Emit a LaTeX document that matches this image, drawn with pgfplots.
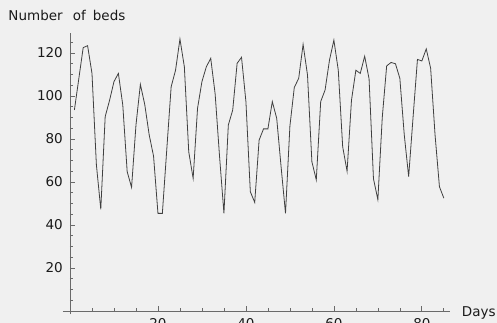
\documentclass[border=0pt]{standalone}
\usepackage{pgfplots}
\pgfplotsset{compat=1.18}
\usepackage{pgfplotstable}
\usepackage{fontspec}
\setmainfont{DejaVu Sans}
\definecolor{bgcol}{HTML}{F0F0F0}
\definecolor{linecol}{HTML}{404040}
\definecolor{axiscol}{HTML}{6A6A6A}
\definecolor{textcol}{HTML}{1A1A1A}
\newcommand{\lblfont}{\fontsize{13.5bp}{16bp}\selectfont}
\pgfplotstableread{
day beds
1 93.5
2 108
3 122.5
4 123.4
5 110.5
6 68
7 47.3
8 90.4
9 98
10 106.7
11 110.5
12 95.8
13 64.8
14 57.5
15 86.5
16 105.4
17 96
18 82
19 72
20 45.4
21 45.4
22 75
23 104.3
24 112
25 126.5
26 113.6
27 74
28 61.7
29 94.3
30 106.7
31 113.6
32 117.5
33 101
34 72
35 45.4
36 86.5
37 93.5
38 115.2
39 118
40 97.4
41 55.5
42 50.5
43 79.5
44 84.7
45 84.7
46 97.4
47 89.6
48 67
49 45.4
50 86
51 104
52 108.2
53 124
54 109.8
55 69.4
56 61
57 97.4
58 102.8
59 116.7
60 126
61 112
62 76.4
63 65
64 98
65 112
66 110.5
67 118.5
68 108
69 61.5
70 51.8
71 90
72 114
73 115.6
74 115
75 108.2
76 82
77 62.5
78 90
79 117
80 116.3
81 121.9
82 112.9
83 82
84 57.8
85 52.5
}\bedstable
\begin{document}
\begin{tikzpicture}
\fill[bgcol] (-70bp,-12bp) rectangle (427bp,311bp);
\begin{axis}[
  anchor=origin, at={(0,0)},
  x=4.398bp, y=2.15bp,
  axis lines=middle,
  axis line style={-, color=axiscol, line width=0.8bp},
  xmin=-1.6, xmax=86.4, ymin=-1.5, ymax=129.3,
  xtick={20,40,60,80}, ytick={20,40,60,80,100,120},
  minor xtick={5,10,15,25,30,35,45,50,55,65,70,75,85},
  minor ytick={5,10,15,25,30,35,45,50,55,65,70,75,85,90,95,105,110,115,125},
  tick align=inside,
  major tick length=5bp, minor tick length=3bp,
  every tick/.style={color=axiscol, line width=0.7bp},
  ticklabel style={font=\lblfont, text=textcol},
  xticklabel style={anchor=north, inner sep=0pt, yshift=-7.3bp},
  yticklabel style={anchor=east, inner sep=0pt, xshift=-7bp},
  /pgf/number format/assume math mode=true,
  clip=false,
]
\addplot[color=linecol, line width=0.8bp, mark=none] table[x=day, y=beds] {\bedstable};
\end{axis}
\node[anchor=base west, inner sep=0pt, font=\lblfont, text=textcol] at (-61.7bp,290.3bp) {Number};
\node[anchor=base west, inner sep=0pt, font=\lblfont, text=textcol] at (2.7bp,290.3bp) {of};
\node[anchor=base west, inner sep=0pt, font=\lblfont, text=textcol] at (22.7bp,290.3bp) {beds};
\node[anchor=base west, inner sep=0pt, font=\lblfont, text=textcol] at (391.7bp,-5bp) {Days};
\pgfresetboundingbox
\path[use as bounding box] (-70bp,-12bp) rectangle (427bp,311bp);
\end{tikzpicture}
\end{document}
